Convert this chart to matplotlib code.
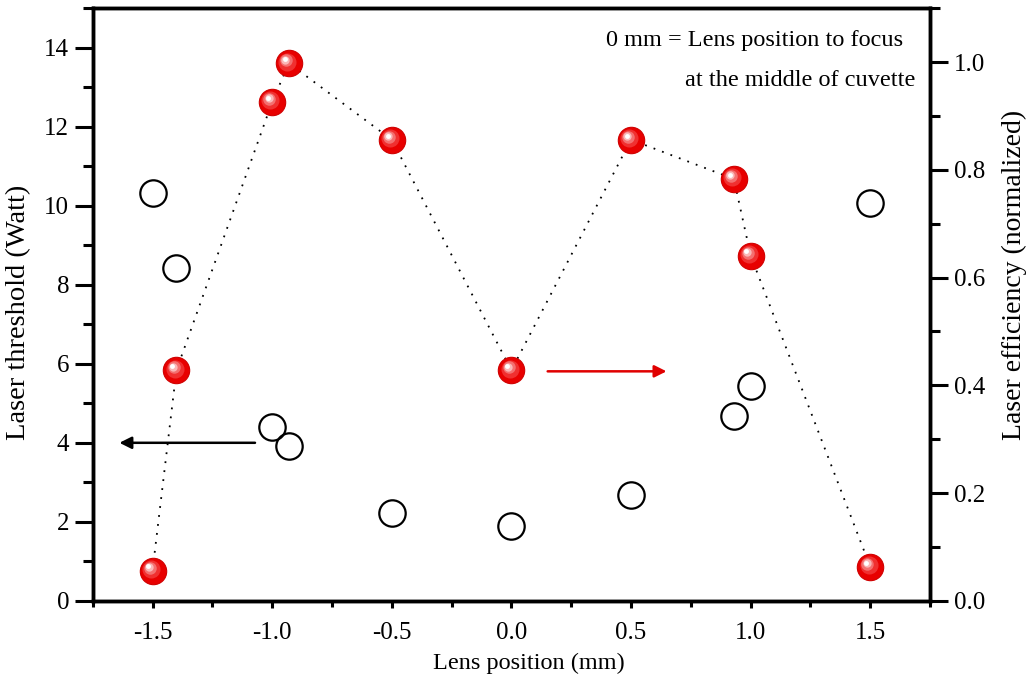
import matplotlib
matplotlib.use('Agg')
import matplotlib.pyplot as plt
import matplotlib.transforms as mtransforms
from matplotlib.ticker import MultipleLocator

plt.rcParams['font.family'] = ['Liberation Serif', 'DejaVu Serif']

# Data
lens_pos = [-1.5, -1.4, -1.0, -0.93, -0.5, 0.0, 0.5, 0.93, 1.0, 1.5]
threshold = [10.33, 8.43, 4.40, 3.92, 2.23, 1.90, 2.68, 4.68, 5.44, 10.08]
efficiency = [0.056, 0.428, 0.926, 0.998, 0.856, 0.428, 0.856, 0.783, 0.641, 0.063]

fig = plt.figure(figsize=(10.3, 6.89), dpi=100)
ax = fig.add_axes([0.090, 0.128, 0.813, 0.860])
ax2 = ax.twinx()

# threshold: open circles on the left axis
ax.plot(lens_pos, threshold, linestyle='none', marker='o', markersize=19,
        markerfacecolor='none', markeredgecolor='black', markeredgewidth=1.6, zorder=3)

# efficiency: dotted line + shiny red spheres on the right axis
ax2.plot(lens_pos, efficiency, linestyle=(0, (1, 4)), color='black', linewidth=1.3, zorder=2)
ax2.plot(lens_pos, efficiency, linestyle='none', marker='o', markersize=19,
         markerfacecolor='#e80000', markeredgecolor='#d00000', markeredgewidth=0.8, zorder=3)
# fake highlight, shifted up-left a bit
shades = [('#f03030', 13, 1.2), ('#f47070', 9, 2.0), ('#fab8b8', 6, 2.6), ('#ffffff', 3.5, 3.0)]
for col, ms, off in shades:
    tr = ax2.transData + mtransforms.ScaledTranslation(-off / 72, off / 72, fig.dpi_scale_trans)
    ax2.plot(lens_pos, efficiency, linestyle='none', marker='o', markersize=ms,
             markerfacecolor=col, markeredgecolor='none', transform=tr, zorder=4)

ax.set_xlim(-1.75, 1.75)
ax.set_ylim(0, 15)
ax2.set_ylim(0, 1.1)

ax.set_xticks([-1.5, -1.0, -0.5, 0.0, 0.5, 1.0, 1.5])
ax.xaxis.set_minor_locator(MultipleLocator(0.25))
ax.set_yticks([0, 2, 4, 6, 8, 10, 12, 14])
ax.yaxis.set_minor_locator(MultipleLocator(1))
ax2.set_yticks([0.0, 0.2, 0.4, 0.6, 0.8, 1.0])
ax2.yaxis.set_minor_locator(MultipleLocator(0.1))
ax.xaxis.set_major_formatter(plt.FuncFormatter(lambda v, p: f'{v:.1f}'))
ax2.yaxis.set_major_formatter(plt.FuncFormatter(lambda v, p: f'{v:.1f}'))

ax.tick_params(axis='x', which='major', direction='out', length=5, width=2.2, labelsize=18, pad=10)
ax.tick_params(axis='x', which='minor', direction='out', length=4, width=2.2)
ax.tick_params(axis='y', which='major', direction='out', length=13, width=2.2, labelsize=18, pad=4)
ax.tick_params(axis='y', which='minor', direction='out', length=7, width=2.2)
ax2.tick_params(axis='y', which='major', direction='out', length=13, width=2.2, labelsize=18, pad=4)
ax2.tick_params(axis='y', which='minor', direction='out', length=7, width=2.2)

for a in (ax, ax2):
    for s in a.spines.values():
        s.set_linewidth(2.5)

ax.set_xlabel('Lens position (mm)', fontsize=17.5)
ax.set_ylabel('Laser threshold (Watt)', fontsize=20.5)
ax2.set_ylabel('Laser efficiency (normalized)', fontsize=20)
ax.xaxis.set_label_coords(0.521, -0.087)
ax.yaxis.set_label_coords(-0.073, 0.487)
ax2.yaxis.set_label_coords(1.086, 0.55)

# arrows pointing to the matching axis
ax.annotate('', xy=(-1.65, 4.0), xytext=(-1.06, 4.0),
            arrowprops=dict(arrowstyle='-|>', color='black', lw=1.8, mutation_scale=18))
ax2.annotate('', xy=(0.66, 0.426), xytext=(0.14, 0.426),
             arrowprops=dict(arrowstyle='-|>', color='#e00000', lw=1.8, mutation_scale=18))

ax.text(0.968, 0.945, '0 mm = Lens position to focus', transform=ax.transAxes,
        ha='right', va='center', fontsize=17.5)
ax.text(0.982, 0.878, 'at the middle of cuvette', transform=ax.transAxes,
        ha='right', va='center', fontsize=17.5)

fig.savefig('out.png', dpi=100)
